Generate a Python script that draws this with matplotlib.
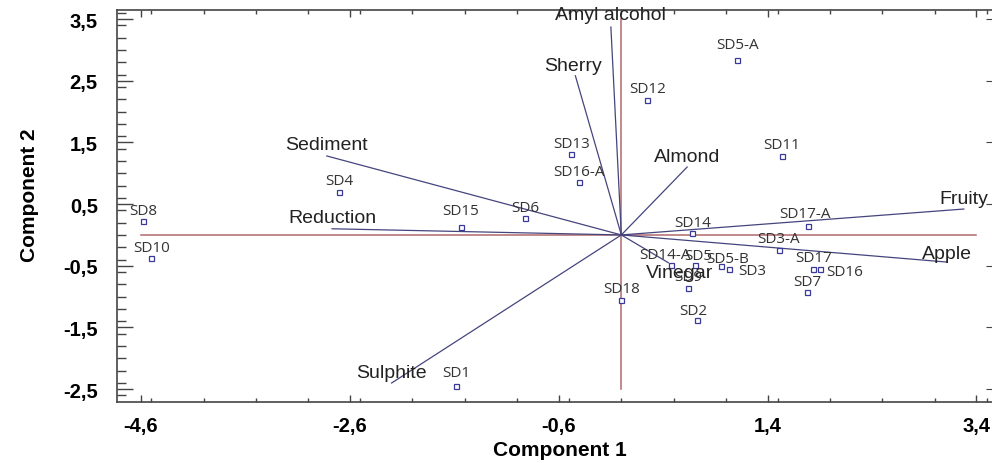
import matplotlib
matplotlib.use("Agg")
import matplotlib.pyplot as plt
from matplotlib.ticker import FixedLocator, MultipleLocator

# Sample scores (Component 1, Component 2)
samples = ["SD8", "SD10", "SD4", "SD15", "SD6", "SD1", "SD13", "SD16-A", "SD12",
           "SD5-A", "SD11", "SD14", "SD17-A", "SD3-A", "SD17", "SD16", "SD7",
           "SD18", "SD2", "SD9", "SD14-A", "SD5", "SD5-B", "SD3"]
comp1 = [-4.58, -4.50, -2.70, -1.54, -0.92, -1.58, -0.48, -0.41, 0.25,
         1.11, 1.54, 0.68, 1.79, 1.51, 1.84, 1.90, 1.78,
         0.00, 0.72, 0.64, 0.48, 0.71, 0.95, 1.03]
comp2 = [0.22, -0.38, 0.70, 0.13, 0.27, -2.45, 1.31, 0.85, 2.19,
         2.84, 1.28, 0.03, 0.15, -0.24, -0.55, -0.55, -0.93,
         -1.05, -1.38, -0.86, -0.48, -0.48, -0.51, -0.56]

# Attribute loadings (vectors from origin)
attributes = ["Amyl alcohol", "Sherry", "Sediment", "Reduction", "Almond",
              "Fruity", "Apple", "Vinegar", "Sulphite"]
load1 = [-0.10, -0.44, -2.82, -2.77, 0.63, 3.28, 3.12, 0.45, -2.20]
load2 = [3.37, 2.58, 1.28, 0.10, 1.10, 0.42, -0.44, -0.45, -2.40]

xticks = [-4.6, -2.6, -0.6, 1.4, 3.4]
yticks = [-2.5, -1.5, -0.5, 0.5, 1.5, 2.5, 3.5]

# label offsets in pixels (layout only)
sample_off = {"SD16": (25, -3), "SD3": (23, -1), "SD14-A": (-6, 10), "SD5": (3, 9),
              "SD5-B": (7, 8), "SD17-A": (-3, 12), "SD2": (-3, 10), "SD15": (0, 16),
              "SD5-A": (0, 15), "SD1": (0, 14)}
attr_off = {"Amyl alcohol": (0, 13), "Sherry": (-2, 10), "Vinegar": (11, -10),
            "Apple": (0, 9)}

fig = plt.figure(figsize=(9.92, 4.64), dpi=100)
ax = fig.add_axes([0.1182, 0.1321, 0.883, 0.8442])

axis_red = "#b06a6e"
vec_col = "#45457e"
pt_col = "#3a3a9a"

# reference axes lines
ax.plot([xticks[0], xticks[-1]], [0, 0], color=axis_red, lw=1.1, zorder=1)
ax.plot([0, 0], [yticks[0], yticks[-1]], color=axis_red, lw=1.1, zorder=1)

# attribute vectors
for name, a, b in zip(attributes, load1, load2):
    ax.plot([0, a], [0, b], color=vec_col, lw=0.9, zorder=2)
    dx, dy = attr_off.get(name, (0, 11))
    ax.annotate(name, (a, b), xytext=(dx, dy), textcoords="offset pixels",
                ha="center", va="center", fontsize=14, color="#222222",
                family="Liberation Sans", zorder=4)

# sample points
ax.plot(comp1, comp2, linestyle="none", marker="s", markersize=3.6,
        markerfacecolor="white", markeredgecolor=pt_col, markeredgewidth=0.9, zorder=3)
for name, a, b in zip(samples, comp1, comp2):
    dx, dy = sample_off.get(name, (0, 11))
    ax.annotate(name, (a, b), xytext=(dx, dy), textcoords="offset pixels",
                ha="center", va="center", fontsize=11, color="#333333",
                family="Open Sans", zorder=4)

ax.set_xlim(-4.827, 3.561)
ax.set_ylim(-2.703, 3.646)

ax.xaxis.set_major_locator(FixedLocator(xticks))
ax.xaxis.set_minor_locator(MultipleLocator(0.5))
ax.yaxis.set_major_locator(FixedLocator(yticks))
ax.yaxis.set_minor_locator(MultipleLocator(0.2))
ax.set_xticklabels([str(v).replace(".", ",") for v in xticks])
ax.set_yticklabels([str(v).replace(".", ",") for v in yticks])

ax.tick_params(axis="x", which="major", direction="in", length=5, width=1,
               top=True, pad=10, color="#444444")
ax.tick_params(axis="x", which="minor", direction="in", length=3, width=1,
               top=True, color="#444444")
ax.tick_params(axis="y", which="major", direction="in", length=11.5, width=1,
               pad=14, color="#444444")
ax.tick_params(axis="y", which="minor", direction="in", length=6.5, width=1,
               color="#444444")
for lab in ax.get_xticklabels() + ax.get_yticklabels():
    lab.set_fontweight("bold")
    lab.set_fontsize(14.5)
    lab.set_family("Liberation Sans")

sec = ax.secondary_yaxis("right")
sec.yaxis.set_major_locator(FixedLocator(yticks))
sec.tick_params(direction="in", length=5, labelright=False, color="#444444")

for sp in ax.spines.values():
    sp.set_color("#444444")
    sp.set_linewidth(1.2)

ax.set_xlabel("Component 1", fontsize=15, fontweight="bold", family="Liberation Sans")
ax.set_ylabel("Component 2", fontsize=15, fontweight="bold", family="Liberation Sans")
ax.xaxis.set_label_coords(0.505, -0.098)
ax.yaxis.set_label_coords(-0.089, 0.53)

fig.savefig("out.png", dpi=100)
